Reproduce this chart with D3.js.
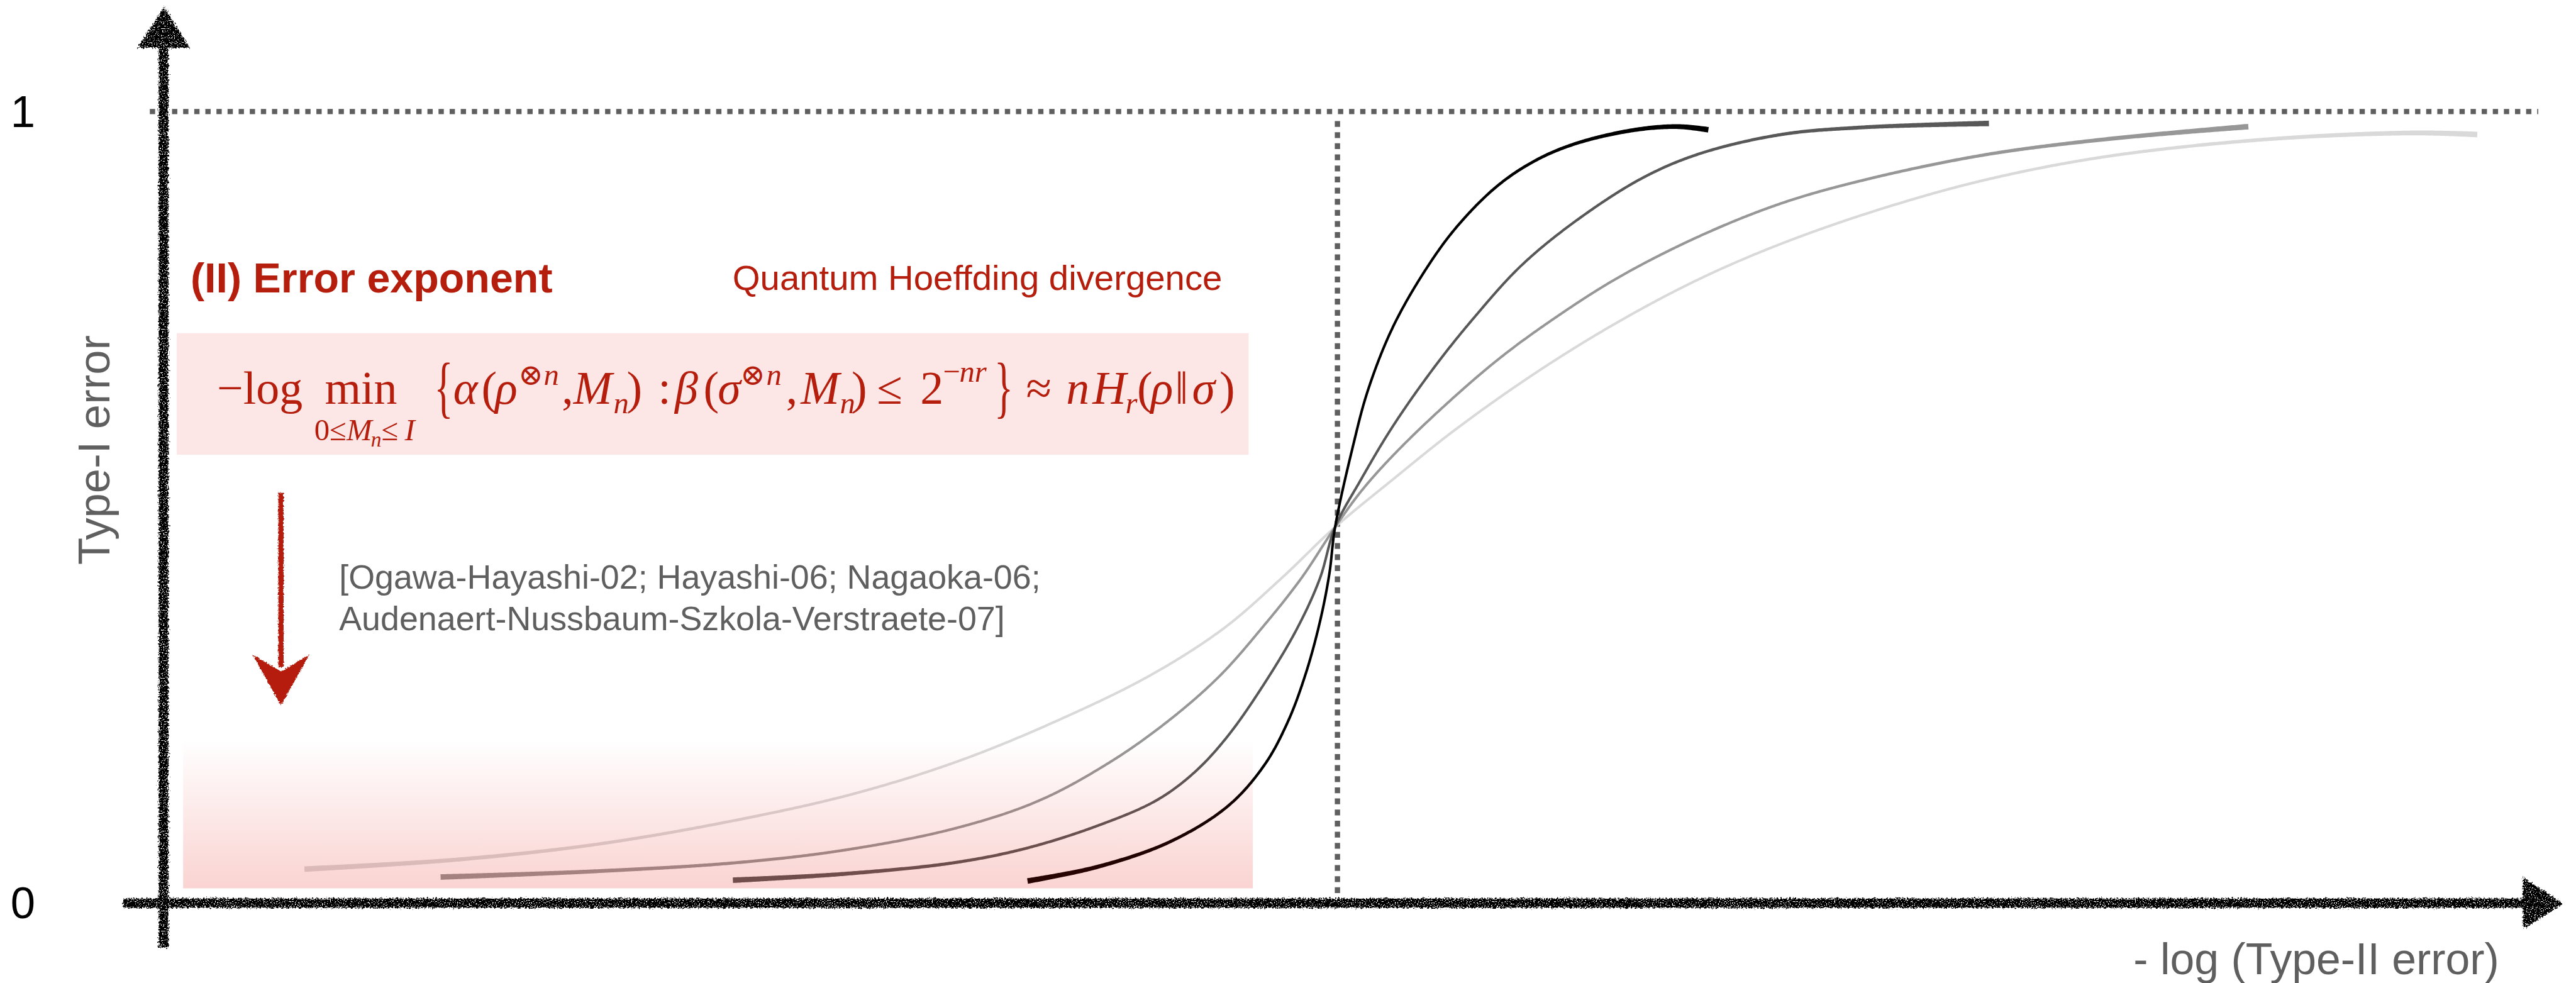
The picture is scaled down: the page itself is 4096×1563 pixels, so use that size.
<!DOCTYPE html>
<html>
<head>
<meta charset="utf-8">
<script src="https://cdn.jsdelivr.net/npm/d3@7"></script>
<style>
  html, body { margin: 0; padding: 0; background: #ffffff; overflow: hidden; }
  svg { display: block; }
</style>
</head>
<body>
<svg id="chart" width="4096" height="1563" viewBox="0 0 4871 1859"></svg>
<script>
// ---------------------------------------------------------------
// Type-I error versus -log(Type-II error) for growing block length n.
// x: rate in units of the relative entropy D(rho||sigma) (1 = dashed line)
// y: Type-I error (0 .. 1)
// ---------------------------------------------------------------

// curve for small n (flattest)
const curveN1 = [
  [0.120, 0.043], [0.250, 0.055], [0.372, 0.075], [0.495, 0.107], [0.590, 0.139],
  [0.680, 0.181], [0.768, 0.235], [0.842, 0.289], [0.903, 0.347], [0.952, 0.410],
  [0.998, 0.475], [1.047, 0.535], [1.102, 0.600], [1.171, 0.672], [1.240, 0.735],
  [1.309, 0.789], [1.378, 0.833], [1.461, 0.876], [1.550, 0.913], [1.654, 0.943],
  [1.792, 0.965], [1.916, 0.973], [1.971, 0.971]
];
const curveN2 = [
  [0.236, 0.033], [0.364, 0.040], [0.487, 0.051], [0.580, 0.067], [0.673, 0.094],
  [0.745, 0.129], [0.805, 0.177], [0.854, 0.228], [0.899, 0.286], [0.937, 0.350],
  [0.969, 0.410], [0.998, 0.475], [1.020, 0.520], [1.047, 0.565], [1.088, 0.624],
  [1.137, 0.687], [1.185, 0.739], [1.240, 0.791], [1.309, 0.843], [1.378, 0.884],
  [1.447, 0.913], [1.550, 0.945], [1.654, 0.965], [1.776, 0.981]
];
const curveN3 = [
  [0.485, 0.029], [0.580, 0.037], [0.673, 0.051], [0.734, 0.069], [0.796, 0.098],
  [0.846, 0.130], [0.878, 0.165], [0.906, 0.210], [0.938, 0.278], [0.966, 0.348],
  [0.985, 0.410], [0.998, 0.475], [1.020, 0.535], [1.047, 0.602], [1.082, 0.676],
  [1.116, 0.739], [1.157, 0.806], [1.206, 0.865], [1.261, 0.917], [1.309, 0.947],
  [1.378, 0.971], [1.447, 0.980], [1.555, 0.985]
];
// curve for large n (steepest)
const curveN4 = [
  [0.736, 0.028], [0.796, 0.046], [0.858, 0.078], [0.907, 0.123], [0.938, 0.175],
  [0.958, 0.230], [0.973, 0.290], [0.985, 0.355], [0.993, 0.415], [0.998, 0.475],
  [1.013, 0.576], [1.026, 0.648], [1.047, 0.727], [1.075, 0.800], [1.102, 0.855],
  [1.137, 0.907], [1.171, 0.940], [1.206, 0.961], [1.254, 0.977], [1.290, 0.981],
  [1.316, 0.977]
];

const seriesOrder = ["small n", "medium n", "larger n", "large n"];
const seriesData  = [curveN1, curveN2, curveN3, curveN4];

const yTickValues = [0, 1];
const yTickLabels = ["0", "1"];
const referenceLevel = 1;      // Type-I error = 1
const thresholdRate = 1;       // r = D(rho||sigma)

const xAxisTitle = "- log (Type-II error)";
const yAxisTitle = "Type-I error";
const headline = "(II) Error exponent";
const subHeadline = "Quantum Hoeffding divergence";
const citationLines = [
  "[Ogawa-Hayashi-02; Hayashi-06; Nagaoka-06;",
  "Audenaert-Nussbaum-Szkola-Verstraete-07]"
];

// ---------------------------------------------------------------
const svg = d3.select("#chart");
const SANS = "'Liberation Sans', Arial, Helvetica, sans-serif";
const SERIF = "'Liberation Serif', 'Times New Roman', 'DejaVu Serif', serif";
const RED = "#b51d0c";
const GREY_TEXT = "#5f5f5f";

const x = d3.scaleLinear().domain([0, 1]).range([309, 2529]);
const y = d3.scaleLinear().domain([0, 1]).range([1708, 211]);
const colour = d3.scaleOrdinal().domain(seriesOrder)
  .range(["#d9d9d9", "#979797", "#585858", "#000000"]);

// ---------- filters & gradients ----------
const defs = svg.append("defs");

function roughFilter(id, freq, amount, holes) {
  const f = defs.append("filter").attr("id", id)
    .attr("filterUnits", "userSpaceOnUse")
    .attr("x", 0).attr("y", 0).attr("width", 4871).attr("height", 1859);
  f.append("feTurbulence").attr("type", "fractalNoise")
    .attr("baseFrequency", freq).attr("numOctaves", 2).attr("seed", 7).attr("result", "noise");
  f.append("feDisplacementMap").attr("in", "SourceGraphic").attr("in2", "noise")
    .attr("scale", amount).attr("xChannelSelector", "R").attr("yChannelSelector", "G")
    .attr("result", "disp");
  if (holes) {
    f.append("feTurbulence").attr("type", "fractalNoise")
      .attr("baseFrequency", 0.45).attr("numOctaves", 1).attr("seed", 13).attr("result", "speck");
    f.append("feColorMatrix").attr("in", "speck").attr("type", "matrix")
      .attr("values", "0 0 0 0 0  0 0 0 0 0  0 0 0 0 0  0 0 0 14 -4.6").attr("result", "mask");
    f.append("feComposite").attr("in", "disp").attr("in2", "mask").attr("operator", "in");
  }
}
roughFilter("rough-axis", 0.3, 11, true);
roughFilter("rough-red", 0.35, 6, false);

const fade = defs.append("linearGradient").attr("id", "fade")
  .attr("x1", 0).attr("y1", 0).attr("x2", 0).attr("y2", 1);
fade.append("stop").attr("offset", "0%").attr("stop-color", "rgb(225,25,15)").attr("stop-opacity", 0);
fade.append("stop").attr("offset", "100%").attr("stop-color", "rgb(225,25,15)").attr("stop-opacity", 0.19);

// ---------- formula panel ----------
svg.append("rect").attr("x", 334).attr("y", 630).attr("width", 2027).attr("height", 230)
  .attr("fill", "#fce7e6");

// headline texts
svg.append("text").attr("x", 360).attr("y", 553)
  .attr("font-family", SANS).attr("font-weight", "bold").attr("font-size", 79)
  .attr("fill", RED).text(headline);
svg.append("text").attr("x", 1385).attr("y", 548)
  .attr("font-family", SANS).attr("font-size", 67)
  .attr("fill", RED).text(subHeadline);

// formula:  -log min_{0<=M_n<=I} { alpha(rho^{⊗n},M_n) : beta(sigma^{⊗n},M_n) <= 2^{-nr} } ≈ n H_r(rho||sigma)
const formula = svg.append("g").attr("fill", RED).attr("font-family", SERIF);
function part(px, base, size, italic, str, sx) {
  const t = formula.append("text")
    .attr("font-size", size)
    .attr("font-style", italic ? "italic" : "normal")
    .text(str);
  if (sx) t.attr("transform", `translate(${px},${base}) scale(${sx},1)`);
  else t.attr("x", px).attr("y", base);
}
const B = 763, SUP = 728, SUB = 782, M = 88, S = 58;
part(410, B, M, false, "\u2212log");
part(614, B, M, false, "min");
part(594, 832, S, false, "0\u2264");
part(655, 832, S, true, "M");
part(701, 845, 40, true, "n");
part(721, 832, S, false, "\u2264");
part(765, 832, S, true, "I");
part(821, 775, 128, false, "{", 0.58);
part(857, B, M, true, "\u03B1");
part(910, B, M, false, "(");
part(936, B, M, true, "\u03C1");
part(980, SUP, 56, false, "\u2297");
part(1028, SUP, S, true, "n");
part(1062, B, M, false, ",");
part(1084, B, M, true, "M");
part(1160, SUB, S, true, "n");
part(1185, B, M, false, ")");
part(1244, B, M, false, ":");
part(1276, B, M, true, "\u03B2");
part(1330, B, M, false, "(");
part(1357, B, M, true, "\u03C3");
part(1400, SUP, 56, false, "\u2297");
part(1449, SUP, S, true, "n");
part(1486, B, M, false, ",");
part(1514, B, M, true, "M");
part(1588, SUB, S, true, "n");
part(1610, B, M, false, ")");
part(1658, B, M, false, "\u2264");
part(1740, B, M, false, "2");
part(1783, SUP - 6, S, false, "\u2212");
part(1814, SUP - 6, S, true, "nr");
part(1880, 775, 128, false, "}", 0.58);
part(1940, B, M, false, "\u2248");
part(2016, B, M, true, "n");
part(2066, B, M, true, "H");
part(2128, SUB, S, true, "r");
part(2150, B, M, false, "(");
part(2176, B, M, true, "\u03C1");
part(2222, B, M, false, "\u2016");
part(2254, B, M, true, "\u03C3");
part(2306, B, M, false, ")");

// citation
const cite = svg.append("text").attr("font-family", SANS).attr("font-size", 64).attr("fill", GREY_TEXT);
citationLines.forEach((ln, i) => {
  cite.append("tspan").attr("x", 641).attr("y", 1113 + i * 79).text(ln);
});

// hand-drawn red arrow pointing down
const redArrow = svg.append("g").attr("filter", "url(#rough-red)");
redArrow.append("line").attr("x1", 531).attr("y1", 932).attr("x2", 531).attr("y2", 1262)
  .attr("stroke", RED).attr("stroke-width", 10);
redArrow.append("path").attr("d", "M483,1244 L531,1330 L579,1244 L531,1272 Z")
  .attr("fill", RED).attr("stroke", RED).attr("stroke-width", 4);

// ---------- reference lines ----------
svg.append("line")
  .attr("x1", x(0) - 26).attr("x2", 4800)
  .attr("y1", y(referenceLevel)).attr("y2", y(referenceLevel))
  .attr("stroke", "#5f5f5f").attr("stroke-width", 10).attr("stroke-dasharray", "10 11");
svg.append("line")
  .attr("x1", x(thresholdRate)).attr("x2", x(thresholdRate))
  .attr("y1", y(referenceLevel) + 18).attr("y2", y(0) - 18)
  .attr("stroke", "#5f5f5f").attr("stroke-width", 10).attr("stroke-dasharray", "11 10");

// ---------- curves (tapered strokes) ----------
const line = d3.line().x(d => x(d[0])).y(d => y(d[1])).curve(d3.curveCatmullRom.alpha(0.5));

function taperedOutline(d, wMid, wEnd) {
  const tmp = svg.append("path").attr("d", d).attr("fill", "none").attr("stroke", "none");
  const node = tmp.node();
  const L = node.getTotalLength();
  const n = Math.max(2, Math.ceil(L / 3));
  const pts = d3.range(n + 1).map(i => {
    const p = node.getPointAtLength(L * i / n);
    return [p.x, p.y];
  });
  tmp.remove();
  const left = [], right = [];
  pts.forEach((p, i) => {
    const a = pts[Math.max(0, i - 1)], b = pts[Math.min(n, i + 1)];
    let dx = b[0] - a[0], dy = b[1] - a[1];
    const len = Math.hypot(dx, dy) || 1;
    dx /= len; dy /= len;
    const t = i / n;
    const k = Math.pow(Math.abs(2 * t - 1), 5);
    const hw = (wMid + (wEnd - wMid) * k) / 2;
    left.push([p[0] - dy * hw, p[1] + dx * hw]);
    right.push([p[0] + dy * hw, p[1] - dx * hw]);
  });
  const ring = left.concat(right.reverse());
  return "M" + ring.map(p => p[0].toFixed(2) + "," + p[1].toFixed(2)).join("L") + "Z";
}

const curves = svg.append("g");
seriesData.forEach((data, i) => {
  curves.append("path")
    .attr("d", taperedOutline(line(data), 4.8, 10.5))
    .attr("fill", colour(seriesOrder[i]));
});

// red haze at the bottom (lies over the curve tails)
svg.append("rect").attr("x", 346).attr("y", 1398).attr("width", 2023).attr("height", 282)
  .attr("fill", "url(#fade)");

// ---------- axes ----------
const axes = svg.append("g").attr("filter", "url(#rough-axis)").attr("fill", "#000");
// y axis
axes.append("line").attr("x1", x(0)).attr("x2", x(0)).attr("y1", 1792).attr("y2", 80)
  .attr("stroke", "#000").attr("stroke-width", 18);
axes.append("path").attr("d", `M${x(0) - 49},90 L${x(0) + 1},13 L${x(0) + 49},90 Z`);
// x axis
axes.append("line").attr("x1", 233).attr("x2", 4785).attr("y1", y(0)).attr("y2", y(0))
  .attr("stroke", "#000").attr("stroke-width", 18);
axes.append("path").attr("d", `M4771,${y(0) - 49} L4847,${y(0) + 1} L4771,${y(0) + 49} Z`);

// tick labels via d3 axis
const yAxis = d3.axisLeft(y).tickValues(yTickValues)
  .tickFormat((d, i) => yTickLabels[i]).tickSize(0).tickPadding(0);
const yAxisG = svg.append("g").attr("transform", `translate(${x(0)},0)`).call(yAxis);
yAxisG.select(".domain").remove();
yAxisG.selectAll("text")
  .attr("x", 43 - x(0)).attr("dy", "0.34em")
  .attr("text-anchor", "middle")
  .attr("font-family", SANS).attr("font-size", 84).attr("fill", "#000");

// axis titles
svg.append("text")
  .attr("transform", "translate(207,851) rotate(-90)")
  .attr("text-anchor", "middle")
  .attr("font-family", SANS).attr("font-size", 84).attr("fill", GREY_TEXT)
  .text(yAxisTitle);
svg.append("text")
  .attr("x", 4726).attr("y", 1842).attr("text-anchor", "end")
  .attr("font-family", SANS).attr("font-size", 83).attr("fill", GREY_TEXT)
  .text(xAxisTitle);
</script>
</body>
</html>
